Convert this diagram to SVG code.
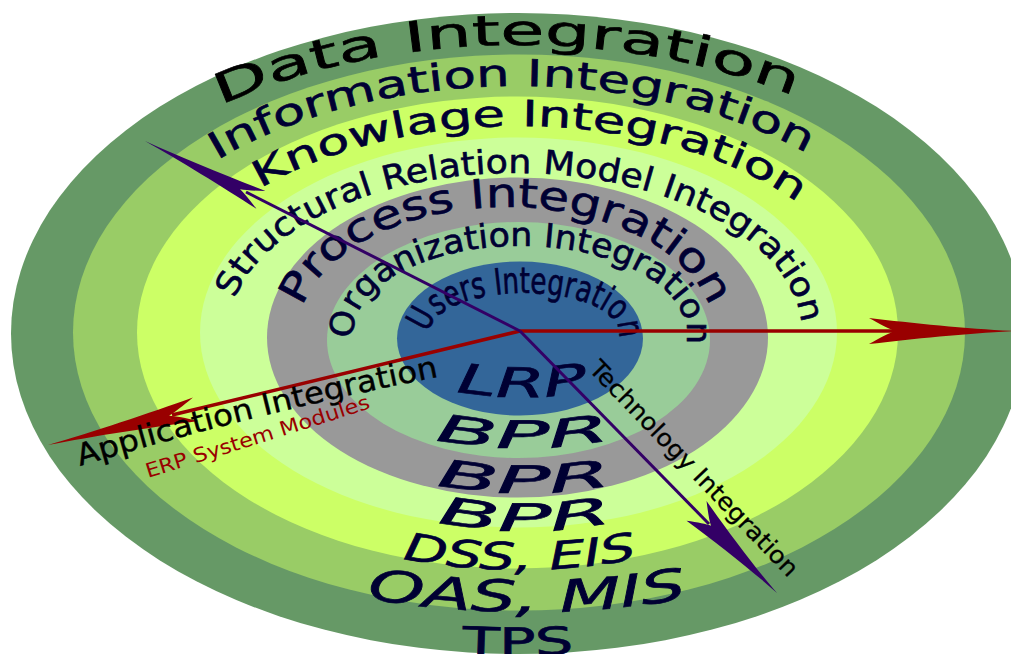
<svg xmlns="http://www.w3.org/2000/svg" width="1011" height="654" viewBox="0 0 1011 654">
<style>
.lbl{font-family:"DejaVu Sans","Liberation Sans",sans-serif;fill:#000033;stroke:#000033;stroke-width:0.6}
.blk{fill:#000000;stroke:#000000}
.obl{font-style:oblique}
.cond{font-family:"DejaVu Sans Condensed","DejaVu Sans",sans-serif}
.erp{fill:#990000;stroke:none}
.wr{stroke:#990000;stroke-width:3.5;fill:none}
.wp{stroke:#330066;stroke-width:3;fill:none}
</style>
<defs>
<path id="p-data" d="M518,621 A485,288 0 0 1 518,45 A485,288 0 0 1 518,621"/>
<path id="p-info" d="M518,580 A421,247 0 0 1 518,86 A421,247 0 0 1 518,580"/>
<path id="p-know" d="M518,540 A360,207 0 0 1 518,126 A360,207 0 0 1 518,540"/>
<path id="p-struct" d="M515,493 A287,160 0 0 1 515,173 A287,160 0 0 1 515,493"/>
<path id="p-proc" d="M506,459 A208,126 0 0 1 506,207 A208,126 0 0 1 506,459"/>
<path id="p-org" d="M520,420 A166.5,87 0 0 1 520,246 A166.5,87 0 0 1 520,420"/>
<path id="p-users" d="M524,373 A95,40 0 0 1 524,293 A95,40 0 0 1 524,373"/>
<path id="b-lrp" d="M522,269 A160,64 0 0 0 522,397 A160,64 0 0 0 522,269"/>
<path id="b-bpr1" d="M523,218 A231,115 0 0 0 523,448 A231,115 0 0 0 523,218"/>
<path id="b-bpr2" d="M524,173 A275,160 0 0 0 524,493 A275,160 0 0 0 524,173"/>
<path id="b-bpr3" d="M525,133 A290,198 0 0 0 525,531 A290,198 0 0 0 525,133"/>
<path id="b-dss" d="M520,96 A382,237 0 0 0 520,570 A382,237 0 0 0 520,96"/>
<path id="b-oas" d="M527,54 A520,279 0 0 0 527,612 A520,279 0 0 0 527,54"/>
<path id="b-tps" d="M518,11 A600,322 0 0 0 518,655 A600,322 0 0 0 518,11"/>
<path id="p-app" d="M80,466 Q260,412 442,376"/>
<path id="p-erp" d="M148,478 Q260,443.5 374,407"/>
<path id="p-tech" d="M588,370 L790,580"/>
<path id="ah" d="M0,0 C-30,-1.5 -70,-6 -100,-10 C-92,-5 -86,-1.5 -82,0 C-86,1.5 -92,5 -100,10 C-70,6 -30,1.5 0,0 Z"/>
</defs>
<rect width="1011" height="654" fill="#ffffff"/>
<g id="rings">
<g id="ring-data"><ellipse cx="518" cy="333.5" rx="507" ry="320.5" fill="#669966"/></g>
<g id="ring-information"><ellipse cx="519" cy="332.5" rx="446" ry="278" fill="#99cc66"/></g>
<g id="ring-knowlage"><ellipse cx="517.5" cy="332.5" rx="380.5" ry="236" fill="#ccff66"/></g>
<g id="ring-structural"><ellipse cx="518.5" cy="332.5" rx="318.5" ry="195" fill="#ccff99"/></g>
<g id="ring-process"><ellipse cx="517.5" cy="337.5" rx="250.5" ry="160" fill="#999999"/></g>
<g id="ring-organization"><ellipse cx="518.5" cy="340" rx="191.5" ry="118" fill="#99cc99"/></g>
<g id="ring-users"><ellipse cx="520" cy="338.5" rx="123" ry="77" fill="#336699"/></g>
</g>
<g id="labels">
<g id="label-data">
<text class="lbl blk" font-size="42" text-anchor="middle"><textPath href="#p-data" startOffset="49.52%" textLength="588" lengthAdjust="spacingAndGlyphs">Data Integration</textPath></text>
<text class="lbl" font-size="38" text-anchor="middle"><textPath href="#b-tps" startOffset="50%" textLength="112" lengthAdjust="spacingAndGlyphs">TPS</textPath></text>
</g>
<g id="label-information">
<text class="lbl" font-size="37" text-anchor="middle"><textPath href="#p-info" startOffset="49.67%" textLength="613" lengthAdjust="spacingAndGlyphs">Information Integration</textPath></text>
<text class="lbl obl" font-size="44" text-anchor="middle"><textPath href="#b-oas" startOffset="50%" textLength="322" lengthAdjust="spacingAndGlyphs">OAS, MIS</textPath></text>
</g>
<g id="label-knowlage">
<text class="lbl" font-size="36" text-anchor="middle"><textPath href="#p-know" startOffset="50.71%" textLength="562" lengthAdjust="spacingAndGlyphs">Knowlage Integration</textPath></text>
<text class="lbl obl" font-size="38" text-anchor="middle"><textPath href="#b-dss" startOffset="50%" textLength="236" lengthAdjust="spacingAndGlyphs">DSS, EIS</textPath></text>
</g>
<g id="label-structural">
<text class="lbl" font-size="33" text-anchor="middle"><textPath href="#p-struct" startOffset="50.89%" textLength="671" lengthAdjust="spacingAndGlyphs">Structural Relation Model Integration</textPath></text>
<text class="lbl obl" font-size="38" text-anchor="middle"><textPath href="#b-bpr3" startOffset="50%" textLength="176" lengthAdjust="spacingAndGlyphs">BPR</textPath></text>
</g>
<g id="label-process">
<text class="lbl" font-size="40" text-anchor="middle"><textPath href="#p-proc" startOffset="50%" textLength="479" lengthAdjust="spacingAndGlyphs">Process Integration</textPath></text>
<text class="lbl obl" font-size="38" text-anchor="middle"><textPath href="#b-bpr2" startOffset="50%" textLength="176" lengthAdjust="spacingAndGlyphs">BPR</textPath></text>
</g>
<g id="label-organization">
<text class="lbl" font-size="33" text-anchor="middle"><textPath href="#p-org" startOffset="50.3%" textLength="425" lengthAdjust="spacingAndGlyphs">Organization Integration</textPath></text>
<text class="lbl obl" font-size="38" text-anchor="middle"><textPath href="#b-bpr1" startOffset="50%" textLength="176" lengthAdjust="spacingAndGlyphs">BPR</textPath></text>
</g>
<g id="label-users">
<text class="lbl cond" font-size="36" text-anchor="middle"><textPath href="#p-users" startOffset="50.6%" textLength="226" lengthAdjust="spacingAndGlyphs">Users Integration</textPath></text>
<text class="lbl obl" font-size="41" text-anchor="middle"><textPath href="#b-lrp" startOffset="50%" textLength="132" lengthAdjust="spacingAndGlyphs">LRP</textPath></text>
</g>
</g>
<g id="connectors">
<g id="arrow-application">
<line x1="520" y1="331" x2="172" y2="415" class="wr"/>
<use href="#ah" fill="#990000" transform="translate(48 445) rotate(166.4) scale(1.52 1.2)"/>
<text class="lbl blk" font-size="30" style="stroke-width:0.4"><textPath href="#p-app" textLength="370" lengthAdjust="spacingAndGlyphs">Application Integration</textPath></text>
<text class="lbl erp" font-size="20"><textPath href="#p-erp" textLength="234" lengthAdjust="spacingAndGlyphs">ERP System Modules</textPath></text>
</g>
<g id="arrow-right">
<line x1="520" y1="331" x2="900" y2="331" class="wr"/>
<use href="#ah" fill="#990000" transform="translate(1014 331) scale(1.45 1.3)"/>
</g>
<g id="arrow-knowledge">
<line x1="520" y1="331" x2="246" y2="192" class="wp"/>
<use href="#ah" fill="#330066" transform="translate(145 141) rotate(206.9) scale(1.3 1.0)"/>
</g>
<g id="arrow-technology">
<line x1="520" y1="331" x2="709" y2="524" class="wp"/>
<use href="#ah" fill="#330066" transform="translate(777 593) rotate(45.6) scale(1.15 1.4)"/>
<text class="lbl blk" font-size="24" style="stroke-width:0.3"><textPath href="#p-tech" textLength="289" lengthAdjust="spacingAndGlyphs">Technology Integration</textPath></text>
</g>
</g>
</svg>
